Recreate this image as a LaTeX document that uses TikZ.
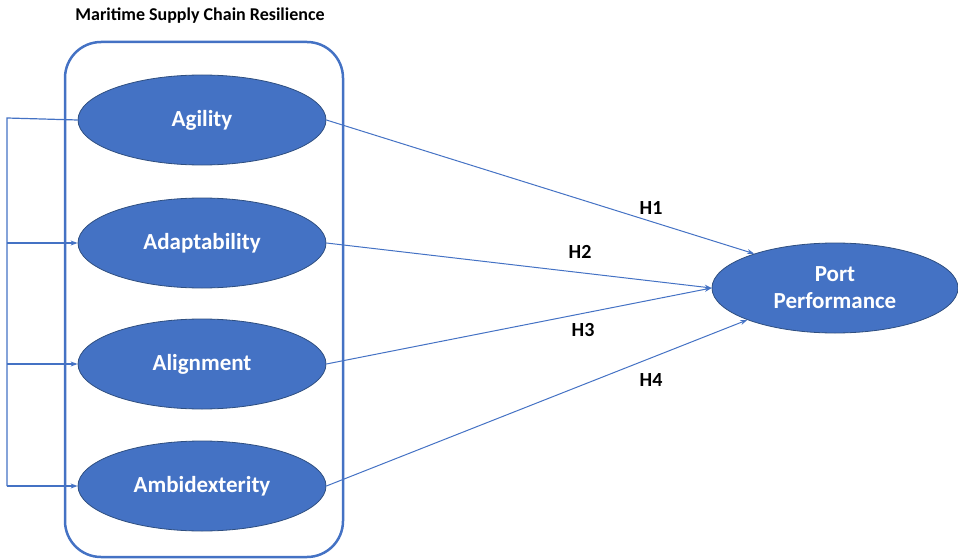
\documentclass[tikz,border=0pt]{standalone}
\usepackage{fontspec}
\setmainfont{Carlito}
\usetikzlibrary{shapes.geometric,arrows.meta}
\definecolor{accent}{HTML}{4472C4}
\definecolor{rim}{HTML}{2F4F80}
\tikzset{
  construct/.style={ellipse, draw=rim, line width=0.8pt, fill=accent,
    minimum width=248pt, minimum height=90pt, inner sep=0pt,
    text=white, font=\bfseries\fontsize{23}{27}\selectfont, align=center},
  link/.style={draw=accent, line width=1pt, -{Stealth[length=7pt,width=5pt]}},
  feed/.style={draw=accent, line width=1.2pt},
  hyp/.style={font=\bfseries\fontsize{20}{22}\selectfont}
}
\begin{document}
\begin{tikzpicture}[x=1pt,y=-1pt]
\useasboundingbox (0,0) rectangle (958,559);
% group frame
\draw[accent, line width=2.5pt, rounded corners=36pt] (65,42) rectangle (343,557);
\node[font=\bfseries\fontsize{18}{20}\selectfont] (title) at (200,16) {Maritime Supply Chain Resilience};
% dimensions
\node[construct] (agi) at (202,120) {Agility};
\node[construct] (ada) at (202,243) {Adaptability};
\node[construct] (ali) at (202,364) {Alignment};
\node[construct] (amb) at (202,486) {Ambidexterity};
\node[construct, minimum width=246pt] (port) at (835,288) {Port\\Performance};
% feedback loop on the left
\coordinate (c1) at (7,118);
\coordinate (c2) at (7,243);
\coordinate (c3) at (7,364);
\coordinate (c4) at (7,486);
\draw[feed] (agi.west) -- (c1) -- (c4);
\draw[feed, -{Stealth[length=7pt,width=5pt]}] (c2) -- (ada.west);
\draw[feed, -{Stealth[length=7pt,width=5pt]}] (c3) -- (ali.west);
\draw[feed, -{Stealth[length=7pt,width=5pt]}] (c4) -- (amb.west);
% hypotheses
\draw[link] (agi.east) -- (port.157);
\draw[link] (ada.east) -- (port.west);
\draw[link] (ali.east) -- (port.west);
\draw[link] (amb.east) -- (port.200);
\node[hyp] (h1) at (651,208) {H1};
\node[hyp] (h2) at (580,252) {H2};
\node[hyp] (h3) at (583,330) {H3};
\node[hyp] (h4) at (651,380) {H4};
\end{tikzpicture}
\end{document}
